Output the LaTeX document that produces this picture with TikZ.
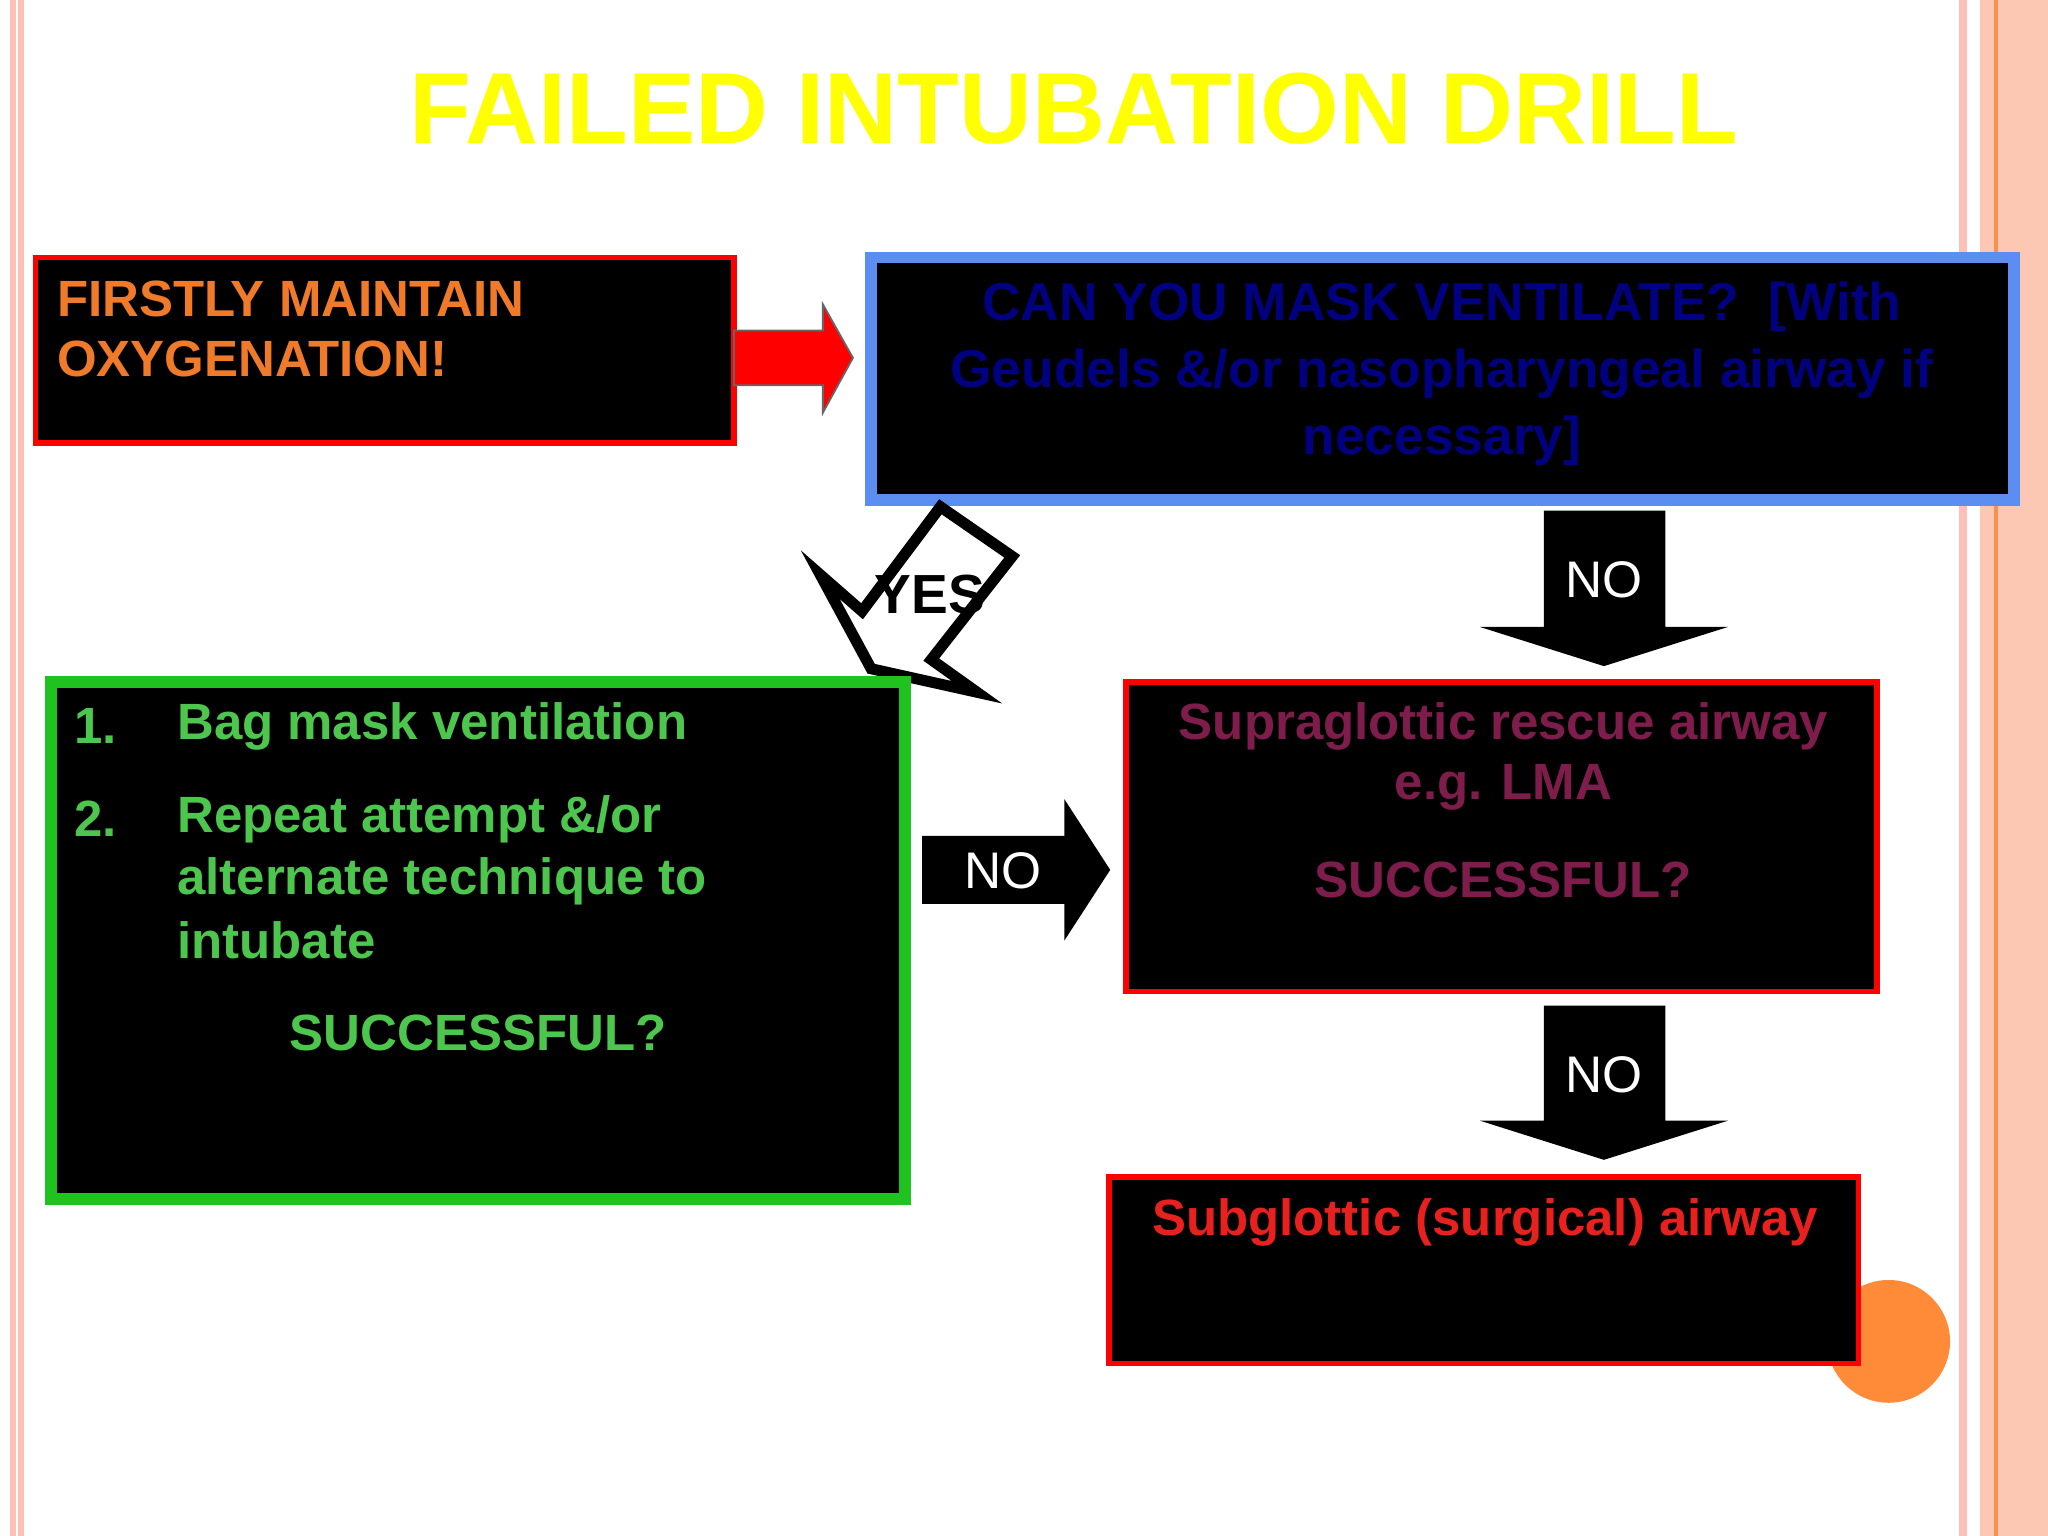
\documentclass[tikz,border=0pt]{standalone}
\usepackage{fontspec}
\setmainfont{Liberation Sans}
\definecolor{ttl}{HTML}{FFFF00}
\definecolor{orng}{HTML}{EE7A2A}
\definecolor{navy}{HTML}{000080}
\definecolor{grn}{HTML}{4DC64D}
\definecolor{mrn}{HTML}{7E1C4C}
\definecolor{rtxt}{HTML}{E8201E}
\definecolor{bbord}{HTML}{5B8EF0}
\definecolor{gbord}{HTML}{1FC21F}
\definecolor{salmon}{HTML}{FCC8B4}
\definecolor{pinkl}{HTML}{FBC0B8}
\definecolor{orline}{HTML}{F79050}
\definecolor{circ}{HTML}{FF8A38}
\begin{document}
\begin{tikzpicture}[x=0.01cm,y=-0.01cm,
  box/.style={fill=black,line width=1.2pt},
  t/.style={font=\bfseries\fontsize{11.1}{13}\selectfont,inner sep=0pt},
  notxt/.style={text=white,font=\fontsize{11.2}{13}\selectfont,inner sep=0pt}]
\useasboundingbox (0,0) rectangle (1568,1176);
\fill[white] (0,0) rectangle (1568,1176);
% borders
\fill[pinkl] (8,0) rectangle (12,1176);
\fill[pinkl] (14,0) rectangle (18,1176);
\fill[pinkl] (1500,0) rectangle (1506,1176);
\fill[salmon] (1516,0) rectangle (1568,1176);
\draw[orline,line width=0.8pt] (1528,0) -- (1528,1176);
% title
\node[text=ttl,font=\bfseries\fontsize{22}{26}\selectfont,inner sep=0pt] (title) at (822,83) {FAILED INTUBATION DRILL};
% box1
\draw[box,draw=red] (27,197) rectangle (562,339);
\coordinate (b1) at (27,197);
\node[t,text=orng,anchor=north west,align=left,font=\bfseries\fontsize{11.1}{13.2}\selectfont] (b1t) at (43,214) {FIRSTLY MAINTAIN\\OXYGENATION!};
% red arrow
\fill[red,draw=black!60,line width=0.4pt] (562,253) -- (630,253) -- (630,233) -- (653,274) -- (630,316) -- (630,295) -- (562,295) -- cycle;
% box2
\draw[box,draw=bbord,line width=2.5pt] (667,197) rectangle (1542,383);
\node[t,text=navy,align=center,font=\bfseries\fontsize{11.6}{14.6}\selectfont] (b2t) at (1104,286) {CAN YOU MASK VENTILATE?\ \ [With\\Geudels \&/or nasopharyngeal airway if\\necessary]};
% YES arrow
\draw[fill=white,line width=2.4pt,line join=miter] (720,388) -- (775,426) -- (713,505) -- (748,530) -- (667,512) -- (628,440) -- (660,468) -- cycle;
\node[font=\bfseries\fontsize{12}{14}\selectfont,inner sep=0pt] (yes) at (712,455) {YES};
% NO down arrow 1
\fill (1182,391) -- (1275,391) -- (1275,480) -- (1323,480) -- (1228,510) -- (1133,480) -- (1182,480) -- cycle;
\node[notxt] (no1) at (1228,444) {NO};
% NO right arrow
\fill (706,640) -- (815,640) -- (815,612) -- (850,666) -- (815,720) -- (815,692) -- (706,692) -- cycle;
\node[notxt] (no2) at (768,667) {NO};
% NO down arrow 2
\fill (1182,770) -- (1275,770) -- (1275,858) -- (1323,858) -- (1228,888) -- (1133,858) -- (1182,858) -- cycle;
\node[notxt] (no3) at (1228,823) {NO};
% green box
\draw[box,draw=gbord,line width=2.5pt] (39,522) rectangle (693,918);
\begin{scope}[every node/.style={t,text=grn,anchor=west}]
\node (n1) at (56,556) {1.};
\node (l1) at (135,556) {Bag mask ventilation};
\node (n2) at (56,627) {2.};
\node (l2) at (135,627) {Repeat attempt \&/or};
\node (l3) at (135,675) {alternate technique to};
\node (l4) at (135,720) {intubate};
\end{scope}
\node[t,text=grn] (gs) at (366,791) {SUCCESSFUL?};
% supraglottic
\draw[box,draw=red] (862,522) rectangle (1437,759);
\node[t,text=mrn] (s1) at (1151,556) {Supraglottic rescue airway};
\node[t,text=mrn] (s2) at (1151,603) {e.g. LMA};
\node[t,text=mrn] (s3) at (1151,674) {SUCCESSFUL?};
% circle and subglottic
\fill[circ] (1446,1027) circle (47);
\draw[box,draw=red] (849,901) rectangle (1423,1044);
\node[t,text=rtxt] (subt) at (1137,936) {Subglottic (surgical) airway};
\end{tikzpicture}
\end{document}
